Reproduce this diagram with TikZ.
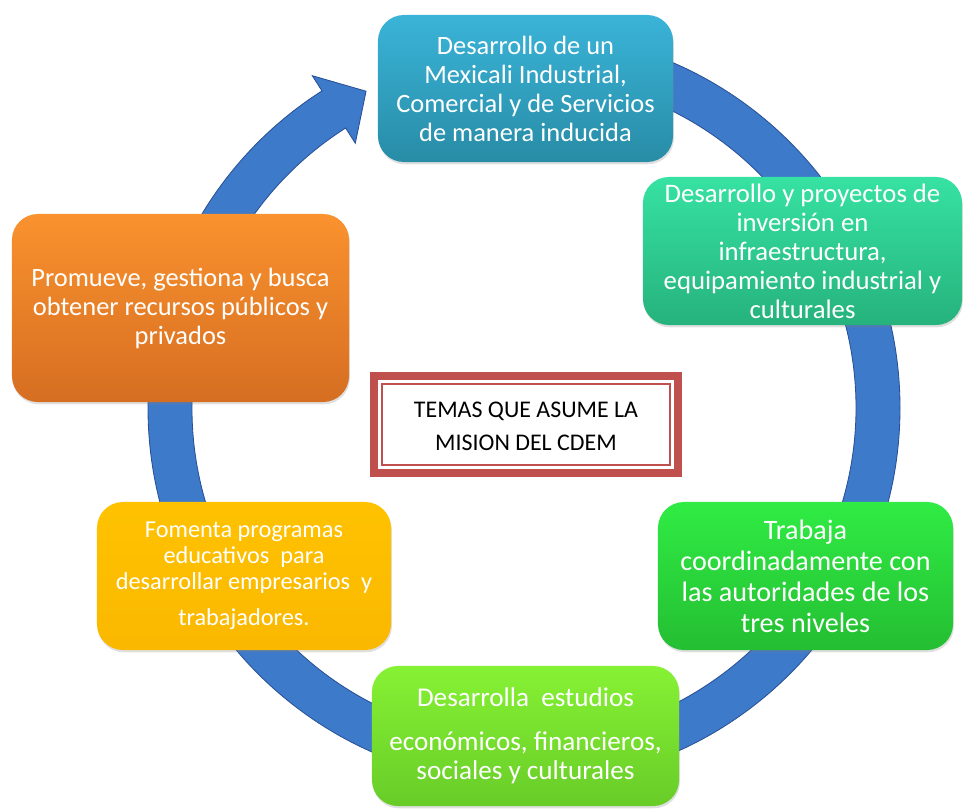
\documentclass[tikz,border=0pt]{standalone}
\usepackage{fontspec}
\setmainfont{Carlito}
\usetikzlibrary{calc,shadows}
\definecolor{cycleblue}{RGB}{62,122,202}
\definecolor{cycleedge}{RGB}{40,80,150}
\definecolor{framered}{RGB}{192,80,77}
\definecolor{mexicali top}{RGB}{58,180,216}
\definecolor{mexicali bottom}{RGB}{40,140,166}
\definecolor{inversion top}{RGB}{54,226,162}
\definecolor{inversion bottom}{RGB}{38,178,124}
\definecolor{niveles top}{RGB}{48,236,68}
\definecolor{niveles bottom}{RGB}{36,190,50}
\definecolor{estudios top}{RGB}{134,242,52}
\definecolor{estudios bottom}{RGB}{104,204,40}
\definecolor{educa top}{RGB}{255,194,0}
\definecolor{educa bottom}{RGB}{250,184,0}
\definecolor{recursos top}{RGB}{250,146,46}
\definecolor{recursos bottom}{RGB}{214,110,34}
\tikzset{
    cycle arrow/.style={fill=cycleblue,draw=cycleedge,line width=0.6pt},
    theme box/.style={rounded corners=0.65cm,align=center,text=white,inner sep=0pt,
        drop shadow={shadow xshift=0.6pt,shadow yshift=-1.6pt,opacity=0.25},
        font=\fontsize{18.8}{20.6}\selectfont},
    shade box/.style={top color=#1 top,bottom color=#1 bottom},
    mission frame/.style={draw=framered,line width=0.2cm},
    mission inner/.style={draw=framered,line width=0.05cm},
}

\begin{document}
\begin{tikzpicture}[x=0.025cm,y=-0.025cm]
        \useasboundingbox (0,0) rectangle (965,809);
        \coordinate (c) at (524,408);

        % the cycle arrow
        \filldraw[cycle arrow] ($(c)+(-90:376)$)
        arc[start angle=-90, end angle=237.5, radius=376]
        -- ($(c)+(237.5:394)$) -- ($(c)+(243.5:354)$) -- ($(c)+(237.5:314)$)
        -- ($(c)+(237.5:332)$)
        arc[start angle=237.5, end angle=-90, radius=332] -- cycle;

        \node[theme box, shade box=mexicali,
            minimum width=7.375cm, minimum height=3.675cm] (mexicali) at (525.5,88.5)
            {Desarrollo de un\\Mexicali Industrial,\\Comercial y de Servicios\\de manera inducida};
        \node[theme box, shade box=inversion, font=\fontsize{19}{20.6}\selectfont,
            minimum width=7.975cm, minimum height=3.7cm] (inversion) at (802.5,251)
            {Desarrollo y proyectos de\\inversión en\\infraestructura,\\equipamiento industrial y\\culturales};
        \node[theme box, shade box=niveles, font=\fontsize{20}{22}\selectfont,
            minimum width=7.375cm, minimum height=3.7cm] (niveles) at (805.5,576)
            {Trabaja\\coordinadamente con\\las autoridades de los\\tres niveles};
        \node[theme box, shade box=estudios, font=\fontsize{19.3}{20.8}\selectfont,
            minimum width=7.675cm, minimum height=3.5cm] (estudios) at (525.5,736)
            {Desarrolla\ \ estudios\\[10pt]económicos, financieros,\\sociales y culturales};
        \node[theme box, shade box=educa, font=\fontsize{17.3}{18.6}\selectfont,
            minimum width=7.35cm, minimum height=3.7cm] (educa) at (244,576)
            {Fomenta programas\\educativos\ \ para\\desarrollar empresarios\ \ y\\[7pt]trabajadores.};
        \node[theme box, shade box=recursos,
            minimum width=8.425cm, minimum height=4.7cm] (recursos) at (180.5,308)
            {Promueve, gestiona y busca\\obtener recursos públicos y\\privados};

        % center title
        \draw[mission frame] (374,376) rectangle (678,473);
        \draw[mission inner] (382,384) rectangle (670,465);
        \node[align=center, font=\fontsize{17}{23.5}\selectfont] (mision) at (526,426)
            {TEMAS QUE ASUME LA\\MISION DEL CDEM};
    \end{tikzpicture}
\end{document}
